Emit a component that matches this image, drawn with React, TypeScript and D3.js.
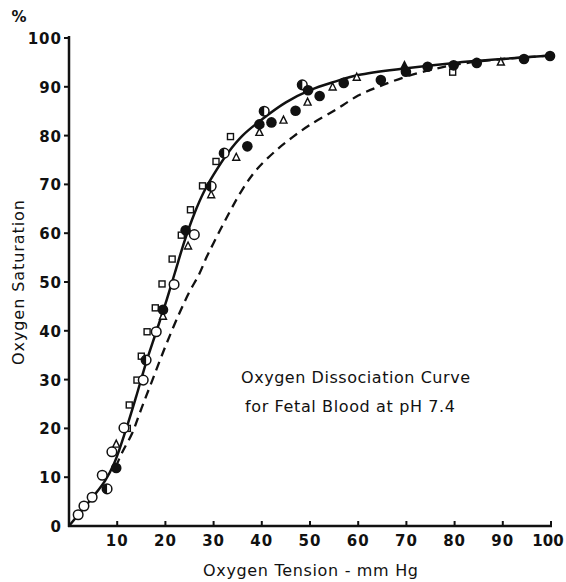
import React from "react";
import * as d3 from "d3";

// oxygen tension (mm Hg) vs saturation (%)
const fetalCurve: [number, number][] = [
  [0, 0], [2.5, 3], [5, 6], [7.5, 9.3], [9.4, 12.9], [11.8, 19.7], [13.9, 26.4],
  [16, 33.5], [18, 39.5], [20, 45.5], [22, 52], [24, 58.5], [26, 64], [28, 68.5],
  [30, 72], [33, 76.5], [36, 80], [40, 83.3], [45, 86.8], [50, 89.3], [55, 91],
  [60, 92.4], [70, 93.8], [80, 94.9], [90, 95.7], [100, 96.4],
];

const adultCurve: [number, number][] = [
  [9.7, 12.1], [11, 15], [13.1, 19], [15, 24], [17.3, 29.9], [20, 36.8], [22.9, 43.6],
  [25, 48], [27, 51.6], [28.5, 55], [30, 58], [33.3, 64.3], [36, 69], [38.9, 73],
  [43, 77], [46.4, 79.7], [50, 82.2], [55.5, 85.4], [60, 88.2], [64.4, 90.1],
  [70, 92.1], [76, 93.7], [80, 94.5], [85, 95.2], [90, 95.7], [100, 96.4],
];

const openCircles: [number, number][] = [
  [1.9, 2.3], [3.1, 4.1], [4.8, 5.9], [6.9, 10.4], [8.9, 15.2], [11.4, 20.1],
  [15.4, 29.9], [18.1, 39.8], [21.8, 49.5], [26, 59.7],
];

const halfCircles: [number, number][] = [
  [7.9, 7.6], [16, 34], [29.5, 69.6], [32.2, 76.4], [40.5, 85], [48.4, 90.4],
];

const filledCircles: [number, number][] = [
  [9.8, 11.9], [19.5, 44.3], [24.2, 60.6], [37, 77.8], [39.5, 82.3], [42, 82.7],
  [47, 85.1], [49.6, 89.3], [52, 88.1], [57, 90.8], [64.7, 91.4], [69.9, 93.1],
  [74.4, 94.1], [79.8, 94.4], [84.6, 94.9], [94.4, 95.7], [99.8, 96.3],
];

const squares: [number, number][] = [
  [12.1, 20], [12.5, 24.8], [14.1, 29.9], [15, 34.8], [16.2, 39.8], [17.9, 44.7],
  [19.3, 49.6], [21.4, 54.7], [23.3, 59.6], [25.2, 64.8], [27.7, 69.7],
  [30.5, 74.7], [33.5, 79.8], [79.6, 93],
];

const triangles: [number, number][] = [
  [9.8, 16.8], [19.5, 43], [24.7, 57.4], [29.5, 67.9], [34.7, 75.6], [39.5, 80.7],
  [44.5, 83.2], [49.5, 86.9], [54.7, 90], [59.7, 92], [89.6, 95.1],
];

const filledTriangles: [number, number][] = [[69.6, 94.4]];

const xTicks = [10, 20, 30, 40, 50, 60, 70, 80, 90, 100];
const yTicks = [0, 10, 20, 30, 40, 50, 60, 70, 80, 90, 100];

const W = 566;
const H = 582;
const font = "'DejaVu Sans', sans-serif";
const ink = "#111";

export default function App() {
  const x = d3.scaleLinear().domain([0, 100]).range([69, 551]);
  const y = d3.scaleLinear().domain([0, 100]).range([526, 38]);

  const line = d3
    .line<[number, number]>()
    .x((d) => x(d[0]))
    .y((d) => y(d[1]))
    .curve(d3.curveCatmullRom.alpha(0.5));

  const tri = (cx: number, cy: number, s = 7) =>
    `M${cx},${cy - s * 0.55} L${cx + s / 2},${cy + s * 0.45} L${cx - s / 2},${cy + s * 0.45} Z`;

  return (
    <div style={{ position: "absolute", left: 0, top: 0 }}>
      <svg width={W} height={H} style={{ display: "block", background: "#fff" }}>
        {/* axes */}
        <line x1={x(0)} x2={x(0)} y1={y(0) + 1} y2={y(100) - 2} stroke={ink} strokeWidth={2.5} />
        <line x1={x(0) - 1} x2={x(100) + 1} y1={y(0)} y2={y(0)} stroke={ink} strokeWidth={2.5} />
        {yTicks.map((t) => (
          <g key={"y" + t}>
            {t > 0 && (
              <line x1={x(0) - 5} x2={x(0)} y1={y(t)} y2={y(t)} stroke={ink} strokeWidth={2} />
            )}
            <text
              x={x(0) - 7}
              y={y(t) + 6}
              textAnchor="end"
              fontFamily={font}
              fontWeight="bold"
              fontSize={15}
              letterSpacing={1}
              fill={ink}
            >
              {t}
            </text>
          </g>
        ))}
        {xTicks.map((t) => (
          <g key={"x" + t}>
            <line x1={x(t)} x2={x(t)} y1={y(0)} y2={y(0) - 5} stroke={ink} strokeWidth={2} />
            <text
              x={t === 100 ? x(t) - 3 : x(t)}
              y={y(0) + 20}
              textAnchor="middle"
              fontFamily={font}
              fontWeight="bold"
              fontSize={15}
              letterSpacing={t === 100 ? 0 : 1}
              fill={ink}
            >
              {t}
            </text>
          </g>
        ))}
        <text x={19} y={22} textAnchor="middle" fontFamily={font} fontWeight="bold" fontSize={15} fill={ink}>
          %
        </text>

        {/* curves */}
        <path d={line(adultCurve) || ""} fill="none" stroke={ink} strokeWidth={2.3} strokeDasharray="9 6" />
        <path d={line(fetalCurve) || ""} fill="none" stroke={ink} strokeWidth={2.5} />

        {/* markers */}
        {squares.map((d, i) => (
          <rect key={"s" + i} x={x(d[0]) - 3} y={y(d[1]) - 3} width={6} height={6} fill="#fff" stroke={ink} strokeWidth={1.4} />
        ))}
        {triangles.map((d, i) => (
          <path key={"t" + i} d={tri(x(d[0]), y(d[1]))} fill="#fff" stroke={ink} strokeWidth={1.4} />
        ))}
        {filledTriangles.map((d, i) => (
          <path key={"ft" + i} d={tri(x(d[0]), y(d[1]))} fill={ink} stroke={ink} strokeWidth={1.4} />
        ))}
        {openCircles.map((d, i) => (
          <circle key={"o" + i} cx={x(d[0])} cy={y(d[1])} r={4.8} fill="#fff" stroke={ink} strokeWidth={1.5} />
        ))}
        {halfCircles.map((d, i) => {
          const cx = x(d[0]);
          const cy = y(d[1]);
          const r = 4.8;
          return (
            <g key={"h" + i}>
              <circle cx={cx} cy={cy} r={r} fill="#fff" stroke={ink} strokeWidth={1.5} />
              <path d={`M${cx},${cy - r} A${r},${r} 0 0 0 ${cx},${cy + r} Z`} fill={ink} />
            </g>
          );
        })}
        {filledCircles.map((d, i) => (
          <circle key={"f" + i} cx={x(d[0])} cy={y(d[1])} r={5.3} fill={ink} />
        ))}

        {/* annotation */}
        <text x={241} y={383} fontFamily={font} fontSize={16} textLength={229} lengthAdjust="spacing" fill={ink}>
          Oxygen Dissociation Curve
        </text>
        <text x={245} y={412} fontFamily={font} fontSize={16} textLength={210} lengthAdjust="spacing" fill={ink}>
          for Fetal Blood at pH 7.4
        </text>

        {/* axis titles */}
        <text x={203} y={576} fontFamily={font} fontSize={16} textLength={215} lengthAdjust="spacing" fill={ink}>
          Oxygen Tension - mm Hg
        </text>
        <text
          transform={`translate(24,365) rotate(-90)`}
          fontFamily={font}
          fontSize={16}
          textLength={165}
          lengthAdjust="spacing"
          fill={ink}
        >
          Oxygen Saturation
        </text>
      </svg>
    </div>
  );
}
